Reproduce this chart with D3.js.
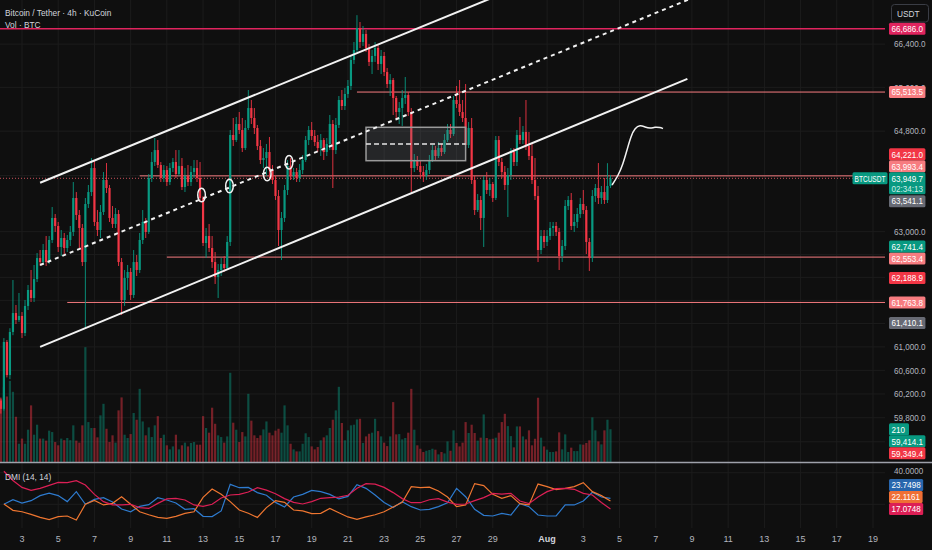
<html>
<head>
<meta charset="utf-8">
<script src="https://d3js.org/d3.v7.min.js"></script>
<style>
    body { margin: 0; background: #0f0f0f; }
    svg { display: block; font-family: "Liberation Sans", Arial, sans-serif; }
    .grid { stroke: #1c1c1c; stroke-width: 1; }
    .axis-text { fill: #b2b5be; font-size: 9.5px; }
    .date-text { fill: #b2b5be; font-size: 9px; }
    .legend { fill: #d1d4dc; font-size: 9.8px; }
    .tag-text { fill: #ffffff; font-size: 9.5px; }
    .drawing { fill: none; stroke: #f2f2f2; stroke-width: 2; }
</style>
</head>
<body>
<svg id="chart" width="932" height="550"></svg>
<script>
// BTCUSDT 4h bars (KuCoin), first bar opens 2024-07-01 20:00 UTC, open of each later bar = previous close
const firstBar = "2024-07-01T20:00";
const firstOpen = 60090;

const closes = [
    59950, 61084, 60520, 61255, 61581, 61461, 61530, 61237, 61703, 61980,
    61841, 62170, 62537, 62467, 62678, 62467, 62854, 63243, 63101, 62731,
    62889, 62713, 62854, 62995, 63598, 63296, 63066, 62467, 63491, 63704,
    64134, 63172, 63030, 63349, 63919, 63776, 63243, 63137, 63313, 62467,
    61806, 62188, 62293, 61893, 62467, 62328, 62854, 63172, 62995, 63955,
    64242, 64458, 64188, 63955, 64098, 63883, 64134, 64242, 64026, 64170,
    63794, 63991, 63883, 64062, 64134, 63955, 63598, 62801, 62924, 62713,
    62467, 62206, 62328, 62432, 62363, 62819, 64730, 64639, 64930, 64821,
    64494, 64857, 65221, 65039, 64857, 64530, 64278, 64314, 64422, 64098,
    63919, 63633, 63030, 63243, 63740, 64170, 63991, 64062, 63955, 64098,
    64278, 64639, 64821, 64712, 64603, 64494, 64639, 64422, 64567, 64930,
    64458, 64912, 65368, 65258, 65478, 65625, 66105, 66290, 66699, 66439,
    66588, 66327, 66068, 66179, 66327, 66031, 66179, 65882, 65661, 65735,
    65405, 65148, 65221, 65405, 65460, 65148, 64134, 64278, 64170, 64062,
    63991, 64098, 64278, 64458, 64350, 64494, 64422, 64639, 64821, 64748,
    65368, 65295, 65148, 65039, 64548, 64857, 63919, 63384, 63562, 63243,
    63919, 63740, 63848, 63598, 64639, 64242, 64062, 63830, 64008, 64422,
    64242, 64730, 64639, 64785, 64530, 64350, 63919, 63633, 62678, 62924,
    62819, 62924, 63066, 63101, 62995, 62572, 62748, 63455, 63562, 63101,
    63172, 63313, 63491, 63384, 62819, 62537, 63633, 63776, 63598, 63704,
    63562, 63812, 63949.7
];
const highs = [
    60140, 61150, 61118, 61320, 62153, 61720, 61928, 61598, 61806, 62067,
    62328, 62415, 62625, 62678, 62784, 62924, 62924, 63437, 63313, 63172,
    63030, 62977, 62942, 63101, 63883, 63704, 63384, 63137, 63598, 63830,
    64314, 64278, 63384, 63473, 64062, 64224, 63830, 63455, 63420, 63384,
    62537, 62328, 62415, 62363, 62678, 62590, 62977, 63384, 63243, 64026,
    64422, 64675, 64639, 64242, 64188, 64170, 64224, 64314, 64458, 64458,
    64314, 64134, 64188, 64170, 64278, 64278, 64242, 63633, 63066, 63137,
    62924, 62643, 62432, 62537, 62572, 62924, 64821, 65039, 65057, 65148,
    65039, 65002, 65551, 65368, 65221, 64912, 64639, 64494, 64567, 64694,
    64188, 63991, 63740, 63349, 63830, 64278, 64314, 64134, 64134, 64206,
    64368, 64712, 64894, 64966, 64821, 64730, 64748, 64675, 64675, 65094,
    65002, 65039, 65441, 65551, 65588, 65735, 66179, 66439, 66940, 66812,
    66737, 66662, 66402, 66290, 66439, 66402, 66290, 66253, 65956, 65845,
    65772, 65441, 65331, 65551, 65790, 65515, 65221, 64386, 64350, 64278,
    64170, 64206, 64368, 64548, 64530, 64603, 64567, 64748, 64930, 64930,
    65441, 65625, 65735, 65368, 65661, 64966, 65039, 63991, 63669, 63633,
    63991, 64062, 63955, 63883, 64712, 64712, 64314, 64170, 64134, 64494,
    64494, 64821, 65057, 64894, 65368, 64785, 64567, 64314, 63812, 63030,
    63030, 63030, 63172, 63172, 63172, 63066, 62854, 63562, 63633, 63687,
    63313, 63420, 63598, 63740, 63455, 62889, 63740, 63848, 64224, 63812,
    63955, 64221, 64010
];
const lows = [
    59870, 59920, 60480, 60450, 61200, 61392, 61427, 61152, 61186, 61633,
    61771, 61771, 62118, 62398, 62432, 62398, 62432, 62801, 62995, 62643,
    62572, 62607, 62643, 62748, 62924, 63207, 62713, 62398, 61323, 63420,
    63633, 63101, 62924, 62889, 63296, 63687, 63172, 63066, 63066, 62398,
    61547, 61703, 61980, 61806, 61841, 62223, 62276, 62784, 62889, 62960,
    63883, 64170, 64134, 63883, 63883, 63812, 63830, 64062, 63955, 63991,
    63740, 63704, 63812, 63812, 63955, 63883, 63527, 62748, 62537, 62643,
    62363, 62084, 61841, 62223, 62293, 62328, 62748, 64530, 64603, 64748,
    64422, 64458, 64821, 64930, 64748, 64458, 64206, 64134, 63991, 63955,
    63848, 63562, 62748, 62502, 63172, 63651, 63919, 63919, 63883, 63883,
    64026, 64242, 64548, 64639, 64530, 64422, 64350, 64278, 64350, 64458,
    63776, 64386, 64857, 65185, 65185, 65405, 65551, 66031, 66253, 66327,
    66364, 66253, 65993, 65845, 66068, 65919, 65845, 65808, 65588, 65441,
    65094, 65039, 64930, 64894, 65295, 65076, 63704, 64062, 64098, 63955,
    63883, 63919, 64026, 64242, 64278, 64314, 64350, 64386, 64603, 64675,
    64712, 65221, 65076, 64966, 64494, 64494, 63848, 63296, 63349, 63030,
    62731, 63669, 63633, 63527, 63562, 64170, 63955, 63740, 63260, 63919,
    64170, 64170, 64567, 64567, 64458, 64278, 63848, 63562, 62467, 62607,
    62713, 62748, 62854, 62924, 62924, 62328, 62467, 62678, 63384, 63030,
    62995, 63066, 63243, 63313, 62607, 62311, 62467, 63527, 63491, 63491,
    63491, 63509, 63776
];
// volume in BTC
const volumes = [
    405, 480, 420, 520, 450, 290, 117, 150, 117, 207,
    363, 175, 239, 150, 150, 137, 201, 192, 128, 107,
    150, 140, 154, 140, 235, 137, 124, 235, 736, 256,
    218, 218, 158, 299, 373, 213, 128, 171, 124, 331,
    414, 175, 154, 179, 314, 271, 469, 260, 171, 222,
    160, 235, 294, 154, 175, 107, 81, 100, 175, 81,
    107, 124, 100, 122, 128, 111, 111, 294, 218, 188,
    348, 245, 171, 160, 124, 164, 572, 252, 207, 128,
    192, 164, 437, 265, 171, 154, 171, 209, 260, 188,
    171, 201, 213, 188, 363, 235, 117, 81, 68, 68,
    117, 184, 160, 100, 81, 96, 139, 158, 171, 218,
    271, 331, 482, 250, 139, 203, 235, 239, 273, 277,
    122, 164, 181, 188, 277, 198, 164, 124, 102, 164,
    384, 177, 179, 145, 154, 188, 469, 207, 107, 85,
    64, 72, 77, 85, 79, 49, 64, 55, 132, 72,
    203, 122, 100, 124, 256, 186, 239, 186, 137, 156,
    305, 154, 145, 149, 156, 188, 256, 309, 230, 166,
    94, 228, 228, 164, 145, 203, 107, 149, 412, 156,
    100, 79, 64, 64, 68, 190, 81, 177, 64, 92,
    70, 70, 113, 111, 122, 139, 286, 203, 132, 113,
    203, 271, 210
];

// DMI (14, 14), read every third bar starting at bar 1
const dmiPlus = [
    20.0, 22.9, 20.8, 22.3, 25.5, 27.1, 25.5, 21.7, 28.0, 20.0,
    23.1, 24.2, 21.5, 17.0, 15.3, 18.7, 19.8, 24.2, 22.7, 20.8,
    16.8, 17.2, 12.4, 12.2, 15.8, 32.6, 30.5, 30.7, 27.4, 25.7,
    21.2, 18.3, 24.6, 26.3, 28.8, 28.0, 26.3, 23.4, 25.0, 32.4,
    30.1, 25.9, 21.2, 17.9, 21.7, 18.5, 16.4, 16.8, 18.5, 21.0,
    30.1, 24.8, 16.8, 13.0, 12.6, 14.3, 13.2, 20.4, 18.5, 13.2,
    12.6, 12.6, 19.6, 19.6, 22.1, 27.6, 24.6, 23.7498
];
const dmiMinus = [
    20.2, 16.2, 15.3, 13.6, 11.7, 10.3, 12.2, 12.6, 10.1, 20.0,
    22.5, 19.6, 20.6, 24.8, 20.0, 15.3, 13.4, 11.7, 11.1, 12.4,
    14.3, 15.3, 24.4, 29.7, 26.3, 21.7, 16.4, 14.3, 11.7, 17.9,
    22.3, 21.2, 16.4, 15.8, 14.1, 14.3, 17.4, 14.7, 12.0, 10.5,
    12.0, 13.4, 15.3, 18.3, 21.2, 31.2, 30.5, 30.9, 28.4, 24.6,
    18.5, 19.6, 33.1, 31.8, 26.3, 23.8, 25.5, 20.4, 19.6, 32.8,
    31.2, 29.3, 30.1, 31.2, 33.7, 28.0, 25.5, 22.1161
];
const adx = [
    40.9, 35.0, 30.7, 28.8, 30.1, 32.0, 33.9, 33.7, 35.0, 32.2,
    26.3, 21.7, 19.6, 19.6, 20.0, 17.9, 17.4, 20.6, 23.4, 23.8,
    22.7, 19.6, 18.7, 20.0, 24.0, 25.9, 26.3, 27.8, 30.5, 29.0,
    26.7, 23.6, 21.2, 20.2, 21.7, 23.8, 24.2, 24.6, 25.7, 30.1,
    33.1, 32.8, 30.7, 27.4, 23.6, 21.0, 21.0, 22.9, 23.6, 21.4,
    20.0, 20.2, 22.3, 24.2, 26.9, 26.5, 26.9, 22.1, 20.4, 24.6,
    28.0, 29.9, 30.1, 29.5, 26.9, 25.9, 21.2, 17.0748
];

const dateTicks = [
    "2024-07-03", "2024-07-05", "2024-07-07", "2024-07-09", "2024-07-11", "2024-07-13",
    "2024-07-15", "2024-07-17", "2024-07-19", "2024-07-21", "2024-07-23", "2024-07-25",
    "2024-07-27", "2024-07-29", "2024-08-01", "2024-08-03", "2024-08-05", "2024-08-07",
    "2024-08-09", "2024-08-11", "2024-08-13", "2024-08-15", "2024-08-17", "2024-08-19"
];
const priceLabels = [66400, 65600, 64800, 63000, 61000, 60600, 60200, 59800];
const gridPrices = [66400, 65600, 64800, 64000, 63000, 62600, 62200, 61800, 61400, 61000, 60600, 60200, 59800, 59400];
const dmiGrid = [20, 40];

// horizontal levels drawn on the chart
const levelPrices = [66686.0, 65513.5, 63993.4, 62553.4, 61763.8];
const levelStarts = ["2024-07-01T00:00", "2024-07-21T12:00", "2024-07-09T12:00", "2024-07-11T00:00", "2024-07-05T12:00"];
const levelKinds = ["alert", "level", "level", "level", "level"];
// other price scale markers
const markPrices = [64221.0, 63541.1, 62741.4, 62188.9, 61410.1, 59414.1, 59349.4];
const markKinds = ["sell", "info", "buy", "sell", "info", "buy", "sell"];
const countdown = "02:34:13";

// drawings: [time, price]
const channelUpper = [["2024-07-04T00:00", 63870], ["2024-07-29T00:00", 67270]];
const channelMid = [["2024-07-04T00:00", 62415], ["2024-08-09T00:00", 67260]];
const channelLower = [["2024-07-04T00:00", 61000], ["2024-08-08T18:00", 65755]];
const boxCorners = [["2024-07-22T00:00", 64870], ["2024-07-27T12:00", 64266]];
const ovalMarks = [["2024-07-12T22:00", 63651], ["2024-07-14T11:00", 63812], ["2024-07-16T13:00", 64026], ["2024-07-17T18:00", 64237]];
const brushPoints = [
    ["2024-08-04T14:04", 63830], ["2024-08-04T22:00", 63991], ["2024-08-05T04:38", 64206],
    ["2024-08-05T09:56", 64458], ["2024-08-05T15:14", 64712], ["2024-08-05T20:33", 64857],
    ["2024-08-06T03:10", 64911], ["2024-08-06T09:48", 64875], ["2024-08-06T16:26", 64848],
    ["2024-08-06T23:04", 64875], ["2024-08-07T05:41", 64866], ["2024-08-07T09:40", 64848]
];

// ---------------- drawing ----------------
const svg = d3.select("#chart");
const plotRight = 885;
const priceBottom = 462;
const dmiTop = 463, dmiBottom = 528;
const squeeze = 0.85;

const up = "#089981", down = "#f23645";
const levelColor = {alert: "#e0245e", level: "#f77c80"};
const markColor = {sell: "#f23645", info: "#676a74", buy: "#089981"};

const parseTime = d3.utcParse("%Y-%m-%dT%H:%M");
const parseDay = d3.utcParse("%Y-%m-%d");
const start = parseTime(firstBar);

const bars = closes.map((c, i) => ({
    time: d3.utcHour.offset(start, 4 * i),
    open: i === 0 ? firstOpen : closes[i - 1],
    high: highs[i],
    low: lows[i],
    close: c,
    volume: volumes[i]
}));

const x = d3.scaleUtc()
    .domain([parseDay("2024-07-03"), parseDay("2024-08-19")])
    .range([22, 873]);
const y = d3.scaleLog().domain([59064, 67225]).range([priceBottom, 0]);
const yVol = d3.scaleLinear().domain([0, 750]).range([priceBottom, 345]);
const yDmi = d3.scaleLinear().domain([0, 40]).range([535.9, 472.7]);
const pt = d => [x(parseTime(d[0])), y(d[1])];

function condense(sel, maxWidth) {
    sel.each(function () {
        let w = this.getComputedTextLength() * squeeze;
        if (maxWidth) w = Math.min(w, maxWidth);
        d3.select(this).attr("textLength", w).attr("lengthAdjust", "spacingAndGlyphs");
    });
    return sel;
}

const defs = svg.append("defs");
defs.append("clipPath").attr("id", "clipPrice")
    .append("rect").attr("x", 0).attr("y", 0).attr("width", plotRight).attr("height", priceBottom);
defs.append("clipPath").attr("id", "clipDmi")
    .append("rect").attr("x", 0).attr("y", dmiTop).attr("width", plotRight).attr("height", dmiBottom - dmiTop);

// grid
const grid = svg.append("g");
grid.selectAll(null).data(dateTicks.map(parseDay)).enter().append("line")
    .attr("class", "grid")
    .attr("x1", d => x(d)).attr("x2", d => x(d))
    .attr("y1", 0).attr("y2", dmiBottom);
grid.selectAll(null).data(gridPrices).enter().append("line")
    .attr("class", "grid")
    .attr("x1", 0).attr("x2", plotRight)
    .attr("y1", d => y(d)).attr("y2", d => y(d));
grid.selectAll(null).data(dmiGrid).enter().append("line")
    .attr("class", "grid")
    .attr("x1", 0).attr("x2", plotRight)
    .attr("y1", d => yDmi(d)).attr("y2", d => yDmi(d));

const priceG = svg.append("g").attr("clip-path", "url(#clipPrice)");

// volume
priceG.selectAll(null).data(bars).enter().append("rect")
    .attr("x", d => x(d.time) - 1.1)
    .attr("width", 2.2)
    .attr("y", d => yVol(d.volume))
    .attr("height", d => priceBottom - yVol(d.volume))
    .attr("fill", d => d.close >= d.open ? up : down)
    .attr("fill-opacity", 0.45);

// horizontal levels
priceG.selectAll(null).data(levelPrices).enter().append("line")
    .attr("x1", (d, i) => x(parseTime(levelStarts[i])))
    .attr("x2", plotRight)
    .attr("y1", d => y(d)).attr("y2", d => y(d))
    .attr("stroke", (d, i) => levelColor[levelKinds[i]])
    .attr("stroke-width", (d, i) => levelKinds[i] === "alert" ? 1.5 : 1);

// last price line
const lastPrice = closes[closes.length - 1];
priceG.append("line")
    .attr("x1", 0).attr("x2", plotRight)
    .attr("y1", y(lastPrice)).attr("y2", y(lastPrice))
    .attr("stroke", "#c9505a")
    .attr("stroke-dasharray", "1,2");

// candles
const candle = priceG.selectAll(null).data(bars).enter().append("g");
const colorOf = d => d.close >= d.open ? up : down;
candle.append("line")
    .attr("x1", d => x(d.time)).attr("x2", d => x(d.time))
    .attr("y1", d => y(Math.max(d.high, d.open, d.close)))
    .attr("y2", d => y(Math.min(d.low, d.open, d.close)))
    .attr("stroke", colorOf)
    .attr("stroke-width", 0.9);
candle.append("rect")
    .attr("x", d => x(d.time) - 1.1)
    .attr("width", 2.2)
    .attr("y", d => y(Math.max(d.open, d.close)))
    .attr("height", d => Math.max(0.8, y(Math.min(d.open, d.close)) - y(Math.max(d.open, d.close))))
    .attr("fill", colorOf);

// drawings
const box = boxCorners.map(pt);
priceG.append("rect")
    .attr("x", box[0][0]).attr("y", box[0][1])
    .attr("width", box[1][0] - box[0][0]).attr("height", box[1][1] - box[0][1])
    .attr("fill", "rgba(120,123,134,0.22)")
    .attr("stroke", "#9a9a9a").attr("stroke-width", 1.5);
priceG.append("line")
    .attr("x1", box[0][0]).attr("x2", box[1][0])
    .attr("y1", (box[0][1] + box[1][1]) / 2).attr("y2", (box[0][1] + box[1][1]) / 2)
    .attr("stroke", "#e6e6e6").attr("stroke-width", 1.3).attr("stroke-dasharray", "5,3");

const segment = d3.line();
priceG.append("path").attr("class", "drawing").attr("d", segment(channelUpper.map(pt)));
priceG.append("path").attr("class", "drawing").attr("d", segment(channelLower.map(pt)));
priceG.append("path").attr("class", "drawing")
    .attr("d", segment(channelMid.map(pt)))
    .attr("stroke", "#b8b8b8").attr("stroke-width", 1.1).attr("stroke-dasharray", "4,4");

priceG.selectAll(null).data(ovalMarks).enter().append("ellipse")
    .attr("cx", d => pt(d)[0]).attr("cy", d => pt(d)[1])
    .attr("rx", 3.8).attr("ry", 6.8)
    .attr("fill", "none").attr("stroke", "#f2f2f2").attr("stroke-width", 1.5);

priceG.append("path")
    .attr("d", d3.line().curve(d3.curveBasis)(brushPoints.map(pt)))
    .attr("fill", "none").attr("stroke", "#f2f2f2").attr("stroke-width", 1.5);

// DMI pane
const dmiBars = d3.range(1, closes.length, 3);
const dmiG = svg.append("g").attr("clip-path", "url(#clipDmi)");
const dmiLine = d3.line().x((d, i) => x(bars[dmiBars[i]].time)).y(d => yDmi(d));
const dmiSeries = [[dmiPlus, "#2e7bcf"], [dmiMinus, "#ef7630"], [adx, "#dc1f55"]];
dmiSeries.forEach(s => {
    dmiG.append("path").attr("d", dmiLine(s[0]))
        .attr("fill", "none").attr("stroke", s[1]).attr("stroke-width", 1.2);
});

// pane separator
svg.append("line")
    .attr("x1", 0).attr("x2", 932).attr("y1", 462.5).attr("y2", 462.5)
    .attr("stroke", "#9ea1aa").attr("stroke-width", 1.3);

// legends
condense(svg.append("text").attr("class", "legend").attr("x", 5).attr("y", 16)
    .text("Bitcoin / Tether · 4h · KuCoin"));
condense(svg.append("text").attr("class", "legend").attr("x", 5).attr("y", 28)
    .text("Vol · BTC"));
condense(svg.append("text").attr("class", "legend").attr("x", 5).attr("y", 480)
    .text("DMI (14, 14)"));

// date axis
const dayFmt = d3.utcFormat("%-d"), monFmt = d3.utcFormat("%b");
svg.selectAll(null).data(dateTicks.map(parseDay)).enter().append("text")
    .attr("class", "date-text")
    .attr("x", d => x(d)).attr("y", 542)
    .attr("text-anchor", "middle")
    .style("font-weight", d => d.getUTCDate() === 1 ? "bold" : null)
    .style("fill", d => d.getUTCDate() === 1 ? "#d1d4dc" : null)
    .text(d => d.getUTCDate() === 1 ? monFmt(d) : dayFmt(d));

// price axis labels
const fmtPrice = d3.format(",.1f");
condense(svg.selectAll(null).data(priceLabels).enter().append("text")
    .attr("class", "axis-text")
    .attr("x", 894).attr("y", d => y(d) + 3.3)
    .text(d => fmtPrice(d)));
condense(svg.append("text").attr("class", "axis-text")
    .attr("x", 894).attr("y", yDmi(40) + 1.5).text(d3.format(".4f")(40)));

// price scale tags, stacked around the last price tag
const lastTag = {y: y(lastPrice), text: fmtPrice(lastPrice), color: up};
let tags = [];
levelPrices.forEach((p, i) => tags.push({y: y(p), text: fmtPrice(p), color: levelColor[levelKinds[i]]}));
markPrices.forEach((p, i) => tags.push({y: y(p), text: fmtPrice(p), color: markColor[markKinds[i]]}));
tags.push({y: yVol(volumes[volumes.length - 1]), text: String(volumes[volumes.length - 1]), color: up});

let edge = lastTag.y - 6;
tags.filter(t => t.y < lastTag.y).sort((a, b) => b.y - a.y).forEach(t => {
    t.y = Math.min(t.y, edge - 6);
    edge = t.y - 6;
});
edge = lastTag.y + 16.5;
tags.filter(t => t.y >= lastTag.y).sort((a, b) => a.y - b.y).forEach(t => {
    t.y = Math.max(t.y, edge + 6);
    edge = t.y + 6;
});

// DMI tags stacked from the bottom up
const dmiTags = [
    {y: yDmi(dmiPlus[dmiPlus.length - 1]), text: d3.format(".4f")(dmiPlus[dmiPlus.length - 1]), color: "#2866ad"},
    {y: yDmi(dmiMinus[dmiMinus.length - 1]), text: d3.format(".4f")(dmiMinus[dmiMinus.length - 1]), color: "#ef6f35"},
    {y: yDmi(adx[adx.length - 1]), text: d3.format(".4f")(adx[adx.length - 1]), color: "#dc1f55"}
];
edge = 1000;
dmiTags.sort((a, b) => b.y - a.y).forEach(t => {
    t.y = Math.min(t.y, edge - 6);
    edge = t.y - 6;
});

function drawTag(t, h) {
    const g = svg.append("g");
    const rect = g.append("rect").attr("x", 889).attr("y", t.y - 6).attr("height", h || 12)
        .attr("rx", 1.5).attr("fill", t.color);
    const txt = condense(g.append("text").attr("class", "tag-text")
        .attr("x", 891.5).attr("y", t.y + 3.3).text(t.text));
    const w = +txt.attr("textLength");
    rect.attr("width", Math.max(w + 5, 20));
    return g;
}
tags.forEach(t => drawTag(t));
dmiTags.forEach(t => drawTag(t));

const lastG = drawTag(lastTag, 22);
condense(lastG.append("text").attr("class", "tag-text")
    .attr("x", 891.5).attr("y", lastTag.y + 14.2)
    .style("fill", "#cdeee8").text(countdown));

// symbol label left of the last price tag
svg.append("rect").attr("x", 852.5).attr("y", lastTag.y - 6).attr("width", 35).attr("height", 12)
    .attr("rx", 1.5).attr("fill", up);
condense(svg.append("text").attr("class", "tag-text")
    .attr("x", 854.5).attr("y", lastTag.y + 3.3).text("BTCUSDT"), 31);

// currency button
svg.append("rect").attr("x", 891.5).attr("y", 4.5).attr("width", 37).attr("height", 17.5)
    .attr("rx", 3).attr("fill", "#0f0f0f").attr("stroke", "#3a3d45");
condense(svg.append("text").attr("class", "legend").attr("x", 897).attr("y", 16.5).text("USDT"));
</script>
</body>
</html>
